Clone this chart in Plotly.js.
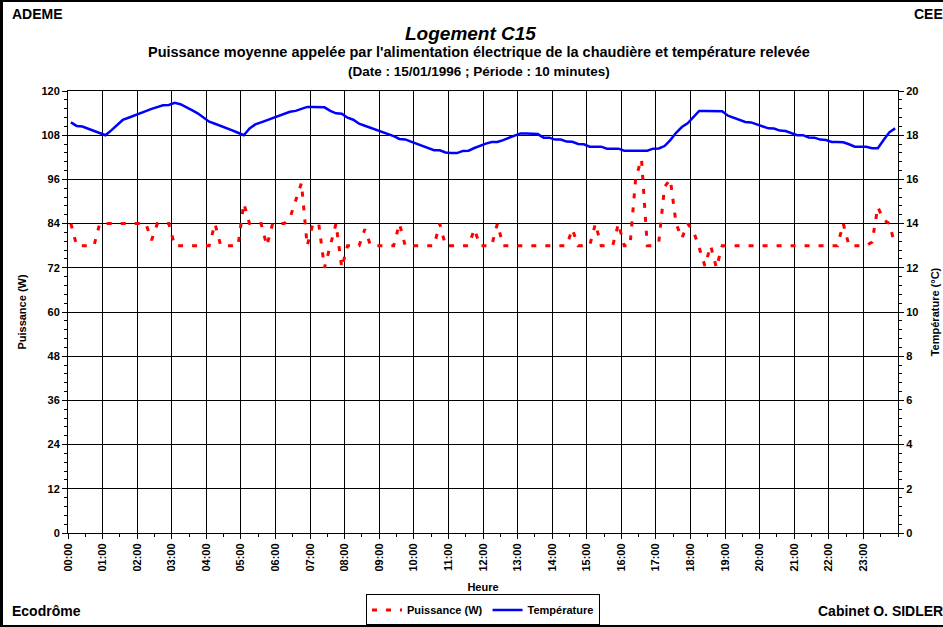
<!DOCTYPE html>
<html><head><meta charset="utf-8">
<script src="https://cdn.plot.ly/plotly-3.0.1.min.js"></script>
<style>
html,body{margin:0;padding:0;background:#fff;}
#wrap{position:relative;width:943px;height:627px;overflow:hidden;}
#chart{width:943px;height:627px;}
#frame{position:absolute;left:0;top:0;width:943px;height:627px;box-sizing:border-box;border-left:3px solid #000;border-top:2px solid #000;border-bottom:2px solid #000;pointer-events:none;}
</style></head><body>
<div id="wrap"><div id="chart"></div><div id="frame"></div></div>
<script>
// 10-minute periods of 15/01/1996
const times = [];
for (let h = 0; h < 24; h++) for (let m = 0; m < 60; m += 10)
  times.push(String(h).padStart(2, '0') + ':' + String(m).padStart(2, '0'));

// Puissance (W)
const puissance = [
  84, 78, 78, 78, 78, 84, 84, 84, 84, 84, 84, 84,
  84, 84, 79.5, 84, 84, 84, 78, 78, 78, 78, 78, 78,
  78, 84, 78, 78, 78, 78, 89.5, 84, 84, 84, 78, 84,
  84, 84, 85.5, 90, 95, 78, 84, 84, 72, 78, 84, 72,
  78, 78, 78, 82.5, 78, 78, 78, 78, 78, 84, 78, 78,
  78, 78, 78, 78, 84, 78, 78, 78, 78, 78, 82.5, 78,
  78, 78, 84, 78, 78, 78, 78, 78, 78, 78, 78, 78,
  78, 78, 78, 82.5, 78, 78, 78, 84, 78, 78, 78, 84,
  78, 78, 96.5, 101.5, 78, 78, 79, 94, 96, 84, 80, 84,
  82, 77.5, 72.5, 78, 72, 78, 78, 78, 78, 78, 78, 78,
  78, 78, 78, 78, 78, 78, 78, 78, 78, 78, 78, 78,
  78, 78, 84, 78, 78, 78, 78, 79, 88.5, 85, 84, 78
];

// Température (°C)
const temperature = [
  18.58, 18.42, 18.39, 18.29, 18.19, 18.09, 18.00, 18.22, 18.46, 18.69, 18.79, 18.88,
  18.97, 19.09, 19.19, 19.28, 19.35, 19.37, 19.47, 19.40, 19.28, 19.13, 18.99, 18.82,
  18.61, 18.52, 18.43, 18.33, 18.22, 18.11, 18.00, 18.31, 18.49, 18.58, 18.67, 18.76,
  18.85, 18.96, 19.06, 19.10, 19.19, 19.28, 19.28, 19.28, 19.26, 19.10, 18.99, 18.97,
  18.79, 18.70, 18.52, 18.43, 18.34, 18.25, 18.16, 18.05, 17.96, 17.83, 17.81, 17.71,
  17.62, 17.53, 17.44, 17.32, 17.32, 17.22, 17.19, 17.19, 17.29, 17.30, 17.42, 17.53,
  17.62, 17.69, 17.69, 17.78, 17.89, 18.00, 18.08, 18.08, 18.08, 18.05, 17.89, 17.89,
  17.80, 17.80, 17.71, 17.70, 17.60, 17.59, 17.48, 17.48, 17.48, 17.39, 17.39, 17.39,
  17.30, 17.30, 17.30, 17.30, 17.30, 17.39, 17.40, 17.51, 17.78, 18.11, 18.37, 18.54,
  18.82, 19.10, 19.10, 19.10, 19.10, 19.08, 18.88, 18.79, 18.70, 18.60, 18.58, 18.49,
  18.40, 18.31, 18.30, 18.21, 18.19, 18.08, 18.00, 18.00, 17.90, 17.89, 17.80, 17.78,
  17.69, 17.69, 17.68, 17.59, 17.48, 17.48, 17.48, 17.41, 17.41, 17.78, 18.13, 18.31
];

const hourLabels = times.filter(t => t.endsWith(':00'));
const powerTicks = [0, 12, 24, 36, 48, 60, 72, 84, 96, 108, 120];
const tempTicks = [0, 2, 4, 6, 8, 10, 12, 14, 16, 18, 20];

const idx = times.map((t, i) => i);
const FONT = 'Liberation Sans, Arial, sans-serif';

const traces = [
  {x: idx, y: puissance, text: times, name: 'Puissance (W)', type: 'scatter', mode: 'lines',
   line: {color: '#FF0000', width: 3, dash: '5px,9px'}, yaxis: 'y'},
  {x: idx, y: temperature, text: times, name: 'Température', type: 'scatter', mode: 'lines',
   line: {color: '#0000FF', width: 2.5}, yaxis: 'y2'}
];

const axisCommon = {
  showline: true, linecolor: '#000', linewidth: 1, zeroline: false,
  ticks: 'outside', ticklen: 5, tickcolor: '#000', tickwidth: 1,
  tickfont: {family: FONT, size: 11, weight: 'bold', color: '#000'}
};

const layout = {
  width: 943, height: 627,
  margin: {l: 68, r: 45, t: 91, b: 94, autoexpand: false},
  paper_bgcolor: '#fff', plot_bgcolor: '#fff',
  font: {family: FONT, size: 11, color: '#000', weight: 'bold'},
  showlegend: true,
  xaxis: Object.assign({}, axisCommon, {
    range: [-0.5, times.length - 0.5],
    tickmode: 'array',
    tickvals: hourLabels.map(h => times.indexOf(h) - 0.5),
    ticktext: hourLabels,
    tickangle: -90,
    mirror: true,
    showgrid: true, gridcolor: '#000', gridwidth: 1,
    minor: {tickmode: 'linear', tick0: -0.5, dtick: 3, ticks: 'outside', ticklen: 3, tickcolor: '#000', showgrid: false},
    title: {text: 'Heure', font: {family: FONT, size: 11, weight: 'bold'}, standoff: 12}
  }),
  yaxis: Object.assign({}, axisCommon, {
    range: [0, 120], tickmode: 'array', tickvals: powerTicks,
    showgrid: true, gridcolor: '#000', gridwidth: 1,
    minor: {tickmode: 'linear', tick0: 0, dtick: 2.4, ticks: 'outside', ticklen: 3, tickcolor: '#000', showgrid: false},
    title: {text: 'Puissance (W)', font: {family: FONT, size: 11, weight: 'bold'}, standoff: 12}
  }),
  yaxis2: Object.assign({}, axisCommon, {
    overlaying: 'y', side: 'right',
    range: [0, 20], tickmode: 'array', tickvals: tempTicks,
    showgrid: false,
    minor: {tickmode: 'linear', tick0: 0, dtick: 0.4, ticks: 'outside', ticklen: 3, tickcolor: '#000', showgrid: false},
    title: {text: 'Température (°C)', font: {family: FONT, size: 11, weight: 'bold'}, standoff: 12}
  }),
  legend: {
    orientation: 'h', x: 0.5, xanchor: 'center', y: -0.139, yanchor: 'top',
    bordercolor: '#000', borderwidth: 1, bgcolor: '#fff',
    font: {family: FONT, size: 11, weight: 'bold'}, itemwidth: 30, tracegroupgap: 0
  },
  annotations: [
    {text: 'Logement C15', xref: 'paper', yref: 'paper', x: 0.4855, y: 1.131, yanchor: 'middle', showarrow: false,
     font: {family: FONT, size: 19, weight: 'bold', style: 'italic'}},
    {text: "Puissance moyenne appelée par l'alimentation électrique de la chaudière et température relevée",
     xref: 'paper', yref: 'paper', x: 0.495, y: 1.088, yanchor: 'middle', showarrow: false,
     font: {family: FONT, size: 14.5, weight: 'bold'}},
    {text: '(Date : 15/01/1996 ; Période : 10 minutes)', xref: 'paper', yref: 'paper', x: 0.495, y: 1.043,
     yanchor: 'middle', showarrow: false, font: {family: FONT, size: 13.5, weight: 'bold'}},
    {text: 'ADEME', xref: 'paper', yref: 'paper', x: -0.0699, xanchor: 'left', y: 1.174, yanchor: 'middle',
     showarrow: false, font: {family: FONT, size: 14, weight: 'bold'}},
    {text: 'CEE', xref: 'paper', yref: 'paper', x: 1.057, xanchor: 'right', y: 1.174, yanchor: 'middle',
     showarrow: false, font: {family: FONT, size: 14, weight: 'bold'}},
    {text: 'Ecodrôme', xref: 'paper', yref: 'paper', x: -0.0699, xanchor: 'left', y: -0.1765, yanchor: 'middle',
     showarrow: false, font: {family: FONT, size: 14, weight: 'bold'}},
    {text: 'Cabinet O. SIDLER', xref: 'paper', yref: 'paper', x: 1.057, xanchor: 'right', y: -0.1765, yanchor: 'middle',
     showarrow: false, font: {family: FONT, size: 14, weight: 'bold'}}
  ]
};

Plotly.newPlot('chart', traces, layout, {displayModeBar: false, staticPlot: true});
</script>
</body></html>
